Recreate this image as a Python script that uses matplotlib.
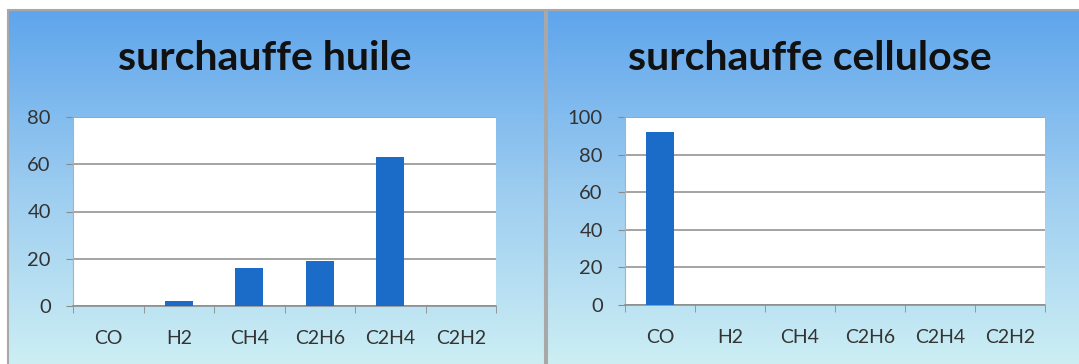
import numpy as np
import matplotlib
matplotlib.use("Agg")
import matplotlib.pyplot as plt
from matplotlib.colors import LinearSegmentedColormap
from matplotlib.patches import Rectangle

gases = ["CO", "H2", "CH4", "C2H6", "C2H4", "C2H2"]
huile = [0, 2, 16, 19, 63, 0]
cellulose = [92, 0, 0, 0, 0, 0]

bar_color = "#1a6cc8"
grid_color = "#8a8a8a"
plt.rcParams["font.family"] = ["Lato", "DejaVu Sans"]

fig = plt.figure(figsize=(10.79, 3.64), dpi=100)
W, H = 1079, 364

bg = LinearSegmentedColormap.from_list("bg", ["#5fa5ec", "#9cccf0", "#cdeff4"])


def px_axes(x0, y0, x1, y1, **kw):
    # pixel box (top-left origin) -> figure axes
    return fig.add_axes([x0 / W, 1 - y1 / H, (x1 - x0) / W, (y1 - y0) / H], **kw)


def panel(x0, x1):
    ax = px_axes(x0, 10, x1, H + 2)
    grad = np.linspace(0, 1, 256).reshape(-1, 1)
    ax.imshow(grad, cmap=bg, aspect="auto", extent=[0, 1, 0, 1], origin="upper")
    ax.add_patch(Rectangle((0, 0), 1, 1, transform=ax.transAxes, fill=False,
                           edgecolor="#a8a8a8", lw=1.5, clip_on=False))
    ax.set_xlim(0, 1)
    ax.set_ylim(0, 1)
    ax.axis("off")
    return ax


def bar_chart(box, values, ymax, title, title_x):
    ax = px_axes(*box)
    x = np.arange(len(gases))
    ax.bar(x, values, width=0.4, color=bar_color, zorder=3)
    ax.set_xlim(-0.5, len(gases) - 0.5)
    ax.set_ylim(0, ymax)
    ax.set_yticks(np.arange(0, ymax + 1, 20))
    ax.yaxis.grid(True, color=grid_color, lw=1.1, zorder=1)
    ax.set_xticks(x)
    ax.set_xticklabels(gases)
    ax.set_xticks(np.arange(-0.5, len(gases)), minor=True)
    ax.tick_params(axis="x", which="major", length=0, pad=17, labelsize=14,
                   labelcolor="#333333")
    ax.tick_params(axis="x", which="minor", length=5, color=grid_color)
    ax.tick_params(axis="y", length=5, color=grid_color, pad=11, labelsize=14.5,
                   labelcolor="#333333")
    for s in ["top", "right"]:
        ax.spines[s].set_visible(False)
    ax.spines["left"].set_color("#b0b0b0")
    ax.spines["bottom"].set_color(grid_color)
    ax.spines["bottom"].set_linewidth(1.1)
    ax.set_facecolor("white")
    fig.text(title_x / W, 1 - 58 / H, title, ha="center", va="center",
             fontsize=29.5, fontweight="bold", color="#111111")
    return ax


panel(8, 545)
panel(547, 1079 + 2)

bar_chart((73, 117, 496, 306), huile, 80, "surchauffe huile", 265)
bar_chart((625, 117, 1045, 305), cellulose, 100, "surchauffe cellulose", 810)

fig.savefig("out.png", dpi=100)
